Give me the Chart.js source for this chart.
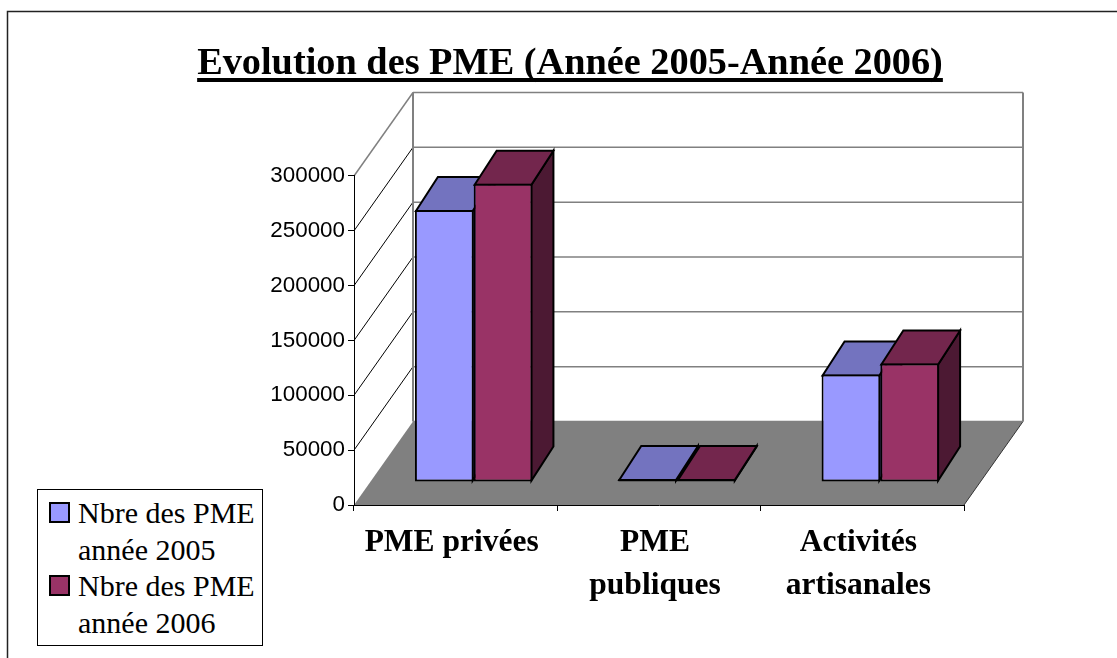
<!DOCTYPE html>
<html>
<head>
<meta charset="utf-8">
<title>Evolution des PME</title>
<script src="https://cdn.jsdelivr.net/npm/chart.js@4"></script>
<style>
  html, body { margin: 0; padding: 0; background: #fff; }
  #wrap { position: relative; width: 1117px; height: 658px; overflow: hidden; }
  #legend {
    position: absolute; left: 37px; top: 489px; width: 226px; height: 157px;
    border: 1px solid #000; background: #fff; box-sizing: border-box;
    font-family: "Liberation Serif", serif; font-size: 30px; line-height: 36.7px; color: #000;
  }
  .item { position: relative; padding: 5px 0 0 40px; height: 73.4px; box-sizing: border-box; white-space: nowrap; margin-bottom: 0; }
  .item i { position: absolute; left: 11px; top: 12px; width: 21px; height: 21px; border: 2px solid #000; box-sizing: border-box; }
</style>
</head>
<body>
<div id="wrap">
  <canvas id="myChart" width="1117" height="658"></canvas>
  <div id="legend"></div>
</div>
<script>
const categories = [["PME privées"], ["PME", "publiques"], ["Activités", "artisanales"]];
const seriesNames = [["Nbre des PME", "année 2005"], ["Nbre des PME", "année 2006"]];
const values2005 = [248000, 900, 98000];
const values2006 = [272000, 750, 108000];
const frontColors = ["#9999FF", "#993366"];
const topColors = ["#7373BF", "#73264D"];
const sideColors = ["#4C4C80", "#4C1933"];
const titleText = "Evolution des PME (Année 2005-Année 2006)";

// depth of the walls and of the bars, in pixels
const wallDx = 59, wallDy = -83.5;
const barShiftX = 18, barShiftY = -23;
const barDx = 22, barDy = -34;

const walls = {
  id: "walls",
  beforeDraw(chart) {
    const { ctx, scales: { x, y } } = chart;
    const left = x.left, right = x.right, bottom = y.bottom;

    ctx.save();
    // page frame
    ctx.strokeStyle = "#222";
    ctx.lineWidth = 1.5;
    ctx.beginPath();
    ctx.moveTo(7.5, 658);
    ctx.lineTo(7.5, 11.5);
    ctx.lineTo(1117, 11.5);
    ctx.stroke();

    // floor
    ctx.fillStyle = "#808080";
    ctx.strokeStyle = "#333";
    ctx.lineWidth = 1;
    ctx.beginPath();
    ctx.moveTo(left, bottom);
    ctx.lineTo(right, bottom);
    ctx.lineTo(right + wallDx, bottom + wallDy);
    ctx.lineTo(left + wallDx, bottom + wallDy);
    ctx.closePath();
    ctx.fill();
    ctx.beginPath();
    ctx.moveTo(right, bottom);
    ctx.lineTo(right + wallDx, bottom + wallDy);
    ctx.stroke();

    // grid lines on the left wall and the back wall
    y.ticks.forEach((tick) => {
      const py = y.getPixelForValue(tick.value);
      const isTop = tick.value === y.max;
      ctx.strokeStyle = isTop ? "#808080" : "#000";
      ctx.lineWidth = isTop ? 1.5 : 1;
      if (tick.value !== 0) {
        ctx.beginPath();
        ctx.moveTo(left, py);
        ctx.lineTo(left + wallDx, py + wallDy);
        ctx.stroke();
      }
      ctx.strokeStyle = "#808080";
      ctx.lineWidth = 1.5;
      ctx.beginPath();
      ctx.moveTo(left + wallDx, py + wallDy);
      ctx.lineTo(right + wallDx, py + wallDy);
      ctx.stroke();
    });
    ctx.strokeStyle = "#808080";
    ctx.lineWidth = 2;
    ctx.beginPath();
    ctx.moveTo(left + wallDx, y.top + wallDy);
    ctx.lineTo(left + wallDx, bottom + wallDy);
    ctx.moveTo(right + wallDx, y.top + wallDy);
    ctx.lineTo(right + wallDx, bottom + wallDy);
    ctx.stroke();
    ctx.restore();
  },
  beforeDatasetsDraw(chart) {
    const { ctx } = chart;
    ctx.save();
    ctx.translate(barShiftX, barShiftY);
    ctx.lineWidth = 2;
    ctx.strokeStyle = "#000";
    ctx.lineJoin = "miter";
    chart.data.datasets.forEach((ds, i) => {
      chart.getDatasetMeta(i).data.forEach((bar) => {
        const l = bar.x - bar.width / 2 + 1, r = bar.x + bar.width / 2 - 1;
        const t = bar.y + 1, b = bar.base - 1;
        // right side
        ctx.fillStyle = sideColors[i];
        ctx.beginPath();
        ctx.moveTo(r, t);
        ctx.lineTo(r + barDx, t + barDy);
        ctx.lineTo(r + barDx, b + barDy);
        ctx.lineTo(r, b);
        ctx.closePath();
        ctx.fill();
        ctx.stroke();
        // top
        ctx.fillStyle = topColors[i];
        ctx.beginPath();
        ctx.moveTo(l, t);
        ctx.lineTo(l + barDx, t + barDy);
        ctx.lineTo(r + barDx, t + barDy);
        ctx.lineTo(r, t);
        ctx.closePath();
        ctx.fill();
        ctx.stroke();
      });
    });
  },
  afterDatasetsDraw(chart) {
    chart.ctx.restore();
  },
  afterDraw(chart) {
    // underline of the title
    const { ctx } = chart;
    const box = chart.titleBlock;
    ctx.save();
    ctx.font = 'bold 38.3px "Liberation Serif"';
    const w = ctx.measureText(titleText).width;
    const cx = (box.left + box.right) / 2;
    ctx.fillStyle = "#000";
    ctx.fillRect(cx - w / 2, 78, w, 4);
    ctx.restore();
  },
};

new Chart(document.getElementById("myChart"), {
  type: "bar",
  data: {
    labels: categories,
    datasets: [
      { label: seriesNames[0].join(" "), data: values2005, backgroundColor: frontColors[0] },
      { label: seriesNames[1].join(" "), data: values2006, backgroundColor: frontColors[1] },
    ],
  },
  options: {
    responsive: false,
    animation: false,
    layout: { padding: { left: 176, right: 153, top: 0, bottom: 0 } },
    datasets: {
      bar: {
        categoryPercentage: 0.578,
        barPercentage: 1,
        borderColor: "#000",
        borderWidth: 2,
        borderSkipped: false,
        minBarLength: 3,
      },
    },
    plugins: {
      legend: { display: false },
      tooltip: { enabled: false },
      title: {
        display: true,
        text: titleText,
        color: "#000",
        font: { family: "Liberation Serif", size: 38.3, weight: "bold", lineHeight: 1.2 },
        padding: { top: 41, bottom: 89 },
      },
    },
    scales: {
      x: {
        afterFit(scale) { scale.height = 153; },
        grid: { drawOnChartArea: false, color: "#000", tickLength: 6, tickColor: "#000", offset: true },
        border: { color: "#000", width: 1 },
        ticks: {
          color: "#000",
          autoSkip: false,
          maxRotation: 0,
          padding: 10,
          labelOffset: -4,
          font: { family: "Liberation Serif", size: 31.5, weight: "bold", lineHeight: 1.37 },
        },
      },
      y: {
        min: 0,
        max: 300000,
        afterFit(scale) { scale.width = 178; },
        grid: { drawOnChartArea: false, color: "#000", tickLength: 6, tickColor: "#000" },
        border: { color: "#000", width: 1 },
        ticks: {
          stepSize: 50000,
          color: "#000",
          padding: 3,
          font: { family: "Liberation Sans", size: 22.4 },
          callback: (v) => String(v),
        },
      },
    },
  },
  plugins: [walls],
});

let legendBox = document.getElementById("legend");
seriesNames.forEach((lines, i) => {
  legendBox.innerHTML += `<div class="item"><i style="background:${frontColors[i]}"></i>${lines.join("<br>")}</div>`;
});
</script>
</body>
</html>
